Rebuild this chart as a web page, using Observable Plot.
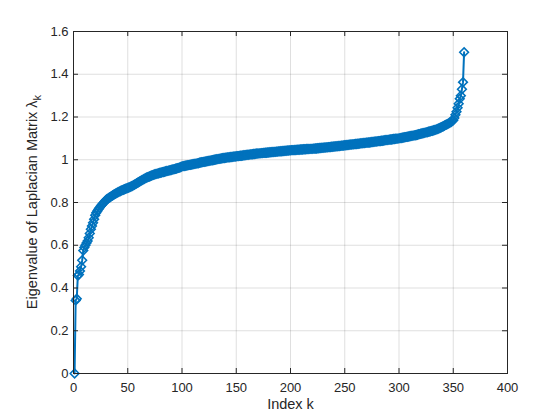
<!DOCTYPE html>
<html><head><meta charset="utf-8">
<script src="https://cdn.jsdelivr.net/npm/d3@7"></script>
<script src="https://cdn.jsdelivr.net/npm/@observablehq/plot@0.6"></script>
<style>body{margin:0;background:#fff}#chart{width:560px;height:420px}</style>
</head><body><div id="chart"></div>
<script>
// Sorted eigenvalues of the Laplacian matrix (k = 1..360)
const eigenvalues = [
  0.000, 0.342, 0.350, 0.458, 0.463, 0.480, 0.500, 0.530, 0.575, 0.590,
  0.600, 0.610, 0.620, 0.635, 0.655, 0.675, 0.690, 0.705, 0.722, 0.740,
  0.752, 0.760, 0.768, 0.775, 0.782, 0.788, 0.794, 0.800, 0.806, 0.812,
  0.816, 0.819, 0.823, 0.826, 0.830, 0.833, 0.836, 0.839, 0.842, 0.845,
  0.848, 0.851, 0.853, 0.856, 0.858, 0.860, 0.862, 0.864, 0.866, 0.868,
  0.870, 0.872, 0.875, 0.877, 0.880, 0.883, 0.886, 0.889, 0.892, 0.895,
  0.898, 0.901, 0.904, 0.907, 0.910, 0.913, 0.916, 0.918, 0.920, 0.922,
  0.924, 0.926, 0.928, 0.930, 0.932, 0.933, 0.935, 0.936, 0.938, 0.939,
  0.940, 0.942, 0.943, 0.944, 0.946, 0.947, 0.948, 0.950, 0.951, 0.952,
  0.954, 0.955, 0.956, 0.958, 0.959, 0.961, 0.962, 0.964, 0.966, 0.969,
  0.970, 0.971, 0.972, 0.973, 0.974, 0.975, 0.976, 0.977, 0.978, 0.979,
  0.980, 0.981, 0.982, 0.983, 0.984, 0.986, 0.987, 0.988, 0.989, 0.990,
  0.991, 0.992, 0.993, 0.994, 0.995, 0.996, 0.997, 0.998, 0.999, 1.000,
  1.001, 1.002, 1.003, 1.004, 1.005, 1.006, 1.007, 1.008, 1.008, 1.009,
  1.010, 1.011, 1.011, 1.012, 1.013, 1.013, 1.014, 1.015, 1.015, 1.016,
  1.017, 1.017, 1.018, 1.019, 1.019, 1.020, 1.021, 1.021, 1.022, 1.023,
  1.023, 1.024, 1.025, 1.025, 1.026, 1.027, 1.027, 1.028, 1.029, 1.029,
  1.030, 1.030, 1.031, 1.031, 1.032, 1.032, 1.033, 1.033, 1.034, 1.034,
  1.035, 1.035, 1.036, 1.036, 1.037, 1.037, 1.038, 1.038, 1.039, 1.039,
  1.040, 1.040, 1.041, 1.041, 1.042, 1.042, 1.043, 1.043, 1.044, 1.044,
  1.045, 1.045, 1.045, 1.046, 1.046, 1.047, 1.047, 1.047, 1.048, 1.048,
  1.048, 1.049, 1.049, 1.049, 1.050, 1.050, 1.050, 1.051, 1.051, 1.051,
  1.052, 1.052, 1.053, 1.053, 1.054, 1.054, 1.055, 1.055, 1.056, 1.056,
  1.057, 1.057, 1.058, 1.058, 1.059, 1.059, 1.060, 1.061, 1.061, 1.062,
  1.062, 1.063, 1.063, 1.064, 1.064, 1.065, 1.066, 1.066, 1.067, 1.068,
  1.068, 1.069, 1.069, 1.070, 1.071, 1.071, 1.072, 1.072, 1.073, 1.074,
  1.074, 1.075, 1.075, 1.076, 1.077, 1.077, 1.078, 1.078, 1.079, 1.080,
  1.080, 1.081, 1.081, 1.082, 1.083, 1.083, 1.084, 1.085, 1.085, 1.086,
  1.087, 1.087, 1.088, 1.089, 1.089, 1.090, 1.091, 1.092, 1.092, 1.093,
  1.094, 1.095, 1.095, 1.096, 1.097, 1.097, 1.098, 1.099, 1.099, 1.100,
  1.101, 1.102, 1.103, 1.104, 1.105, 1.106, 1.107, 1.108, 1.109, 1.110,
  1.111, 1.112, 1.113, 1.114, 1.115, 1.116, 1.117, 1.119, 1.120, 1.122,
  1.123, 1.124, 1.125, 1.127, 1.128, 1.129, 1.131, 1.132, 1.133, 1.135,
  1.136, 1.138, 1.139, 1.141, 1.143, 1.145, 1.147, 1.150, 1.152, 1.155,
  1.157, 1.160, 1.163, 1.165, 1.168, 1.171, 1.174, 1.177, 1.181, 1.185,
  1.195, 1.210, 1.225, 1.243, 1.262, 1.285, 1.300, 1.330, 1.363, 1.503
];
const xTicks = [0, 50, 100, 150, 200, 250, 300, 350, 400];
const yTicks = [0, 0.2, 0.4, 0.6, 0.8, 1, 1.2, 1.4, 1.6];
const yTickLabels = ["0", "0.2", "0.4", "0.6", "0.8", "1", "1.2", "1.4", "1.6"];
const xLabel = "Index k";
const yLabel = "Eigenvalue of Laplacian Matrix ";
const yLabelSymbol = "λ";
const yLabelSub = "k";

const data = eigenvalues.map((v, i) => ({k: i + 1, v}));

const W = 560, H = 420, mL = 73, mR = 53, mT = 31, mB = 47;
const innerW = W - mL - mR, innerH = H - mT - mB, tickLen = 5;
const ink = "#262626", blue = "#0072BD";
const font = "'Liberation Sans', Arial, Helvetica, sans-serif";

const chart = Plot.plot({
  width: W, height: H,
  marginLeft: mL, marginRight: mR, marginTop: mT, marginBottom: mB,
  style: {fontFamily: font, fontSize: "13px", color: ink, background: "#fff"},
  x: {domain: [0, 400]},
  y: {domain: [0, 1.6]},
  marks: [
    Plot.gridX(xTicks, {stroke: ink, strokeOpacity: 0.15}),
    Plot.gridY(yTicks, {stroke: ink, strokeOpacity: 0.15}),
    Plot.line(data, {x: "k", y: "v", stroke: blue, strokeWidth: 2}),
    Plot.dot(data, {x: "k", y: "v", symbol: "diamond2", r: 3.9, stroke: blue, strokeWidth: 1.6, fill: "none"}),
    Plot.frame({stroke: ink}),
    Plot.tickX(xTicks, {x: d => d, insetTop: innerH - tickLen, stroke: ink}),
    Plot.tickX(xTicks, {x: d => d, insetBottom: innerH - tickLen, stroke: ink}),
    Plot.tickY(yTicks, {y: d => d, insetRight: innerW - tickLen, stroke: ink}),
    Plot.tickY(yTicks, {y: d => d, insetLeft: innerW - tickLen, stroke: ink}),
    Plot.axisX(xTicks, {tickSize: 0, tickPadding: 9, label: null, fill: ink}),
    Plot.axisY(yTicks, {tickSize: 0, tickPadding: 5, label: null, fill: ink,
      tickFormat: (d, i) => yTickLabels[i]}),
    Plot.text([xLabel], {text: d => d, frameAnchor: "bottom", dy: 35, fontSize: 14.5, fill: ink})
  ]
});
document.getElementById("chart").appendChild(chart);

const svg = d3.select(chart);
const t = svg.append("text")
  .attr("transform", `translate(37,${mT + innerH / 2}) rotate(-90)`)
  .attr("text-anchor", "middle")
  .attr("font-family", font)
  .attr("font-size", 14.5)
  .attr("fill", ink);
t.append("tspan").text(yLabel);
t.append("tspan").text(yLabelSymbol);
t.append("tspan").attr("dy", 4).attr("font-size", 11).text(yLabelSub);
</script>
</body></html>
